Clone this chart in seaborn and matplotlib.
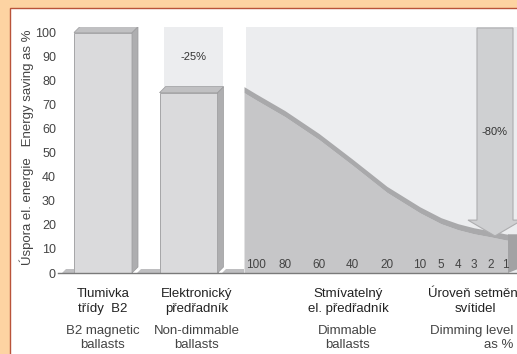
import matplotlib
matplotlib.use("Agg")
import matplotlib.pyplot as plt
import numpy as np
import seaborn as sns
from matplotlib.patches import Polygon, Rectangle

# --- data ---
labels_cz = ["Tlumivka\ntřídy  B2", "Elektronický\npředřadník",
             "Stmívatelný\nel. předřadník", "Úroveň setmění\nsvítidel"]
labels_en = ["B2 magnetic\nballasts", "Non-dimmable\nballasts",
             "Dimmable\nballasts", "Dimming level\nas %"]
bar_energy = [100, 75]
dim_levels = ["100", "80", "60", "40", "20", "10", "5", "4", "3", "2", "1"]
dim_energy = [72, 65, 55.5, 45, 33.5, 25, 20.5, 18, 16.3, 15, 13.8]
curve_start, curve_end = 75, 13.6
savings = ["-25%", "-80%"]
y_ticks = list(range(0, 101, 10))
y_title = "Úspora el. energie   Energy saving as %"

# --- layout (x in pixels of the 517 px wide picture) ---
bar_pos = [103, 188.5]
bar_w = 58
dim_pos = [256, 285, 319, 352, 387, 420, 441, 458, 474, 491, 505]
curve_x0, curve_x1 = 244, 508
label_x = [103, 197, 348, 475]
dx, dy = 6, 2.5          # fake 3D depth
top = 102.3

front = "#DADADC"
side = "#AEAEB0"
lid = "#C0C0C2"
edge = "#9A9A9C"
pale = "#ECEDEF"
text_c = "#444444"

sns.set_style("white")
plt.rcParams["font.family"] = ["Liberation Sans", "DejaVu Sans"]

fig = plt.figure(figsize=(5.17, 3.54), dpi=100)
fig.patch.set_facecolor("#FDD3A2")

bg = fig.add_axes([0, 0, 1, 1])
bg.set_xlim(0, 517)
bg.set_ylim(354, 0)
bg.axis("off")
bg.add_patch(Rectangle((10, 8), 530, 370, facecolor="white",
                       edgecolor="#B9533A", lw=1.0))

ax = fig.add_axes([58 / 517, 81 / 354, 459 / 517, 246 / 354])
ax.patch.set_alpha(0)
ax.set_xlim(58, 517)
ax.set_ylim(0, top)

# pale backgrounds
ax.fill_between([164, 223], bar_energy[1] + dy, top, color=pale, lw=0)
ax.fill_between([246, 517], 0, top, color=pale, lw=0)

# floor strips between the columns
for x0, x1 in [(62, 74), (137, 160), (222, 244)]:
    ax.add_patch(Polygon([(x0, 0), (x1, 0), (x1, 1.5), (x0 + 4, 1.5)],
                         closed=True, fc="#BEBEC0", ec="none"))

# columns
sns.barplot(x=bar_pos, y=bar_energy, native_scale=True,
            width=bar_w / (bar_pos[1] - bar_pos[0]), color=front,
            saturation=1, edgecolor=edge, linewidth=0.6, ax=ax)
for xc, v in zip(bar_pos, bar_energy):
    xl, xr = xc - bar_w / 2, xc + bar_w / 2
    ax.add_patch(Polygon([(xr, 0), (xr + dx, dy), (xr + dx, v + dy), (xr, v)],
                         closed=True, fc=side, ec=edge, lw=0.5))
    ax.add_patch(Polygon([(xl, v), (xr, v), (xr + dx, v + dy), (xl + dx, v + dy)],
                         closed=True, fc=lid, ec=edge, lw=0.5))

# dimming curve
cx = np.array([curve_x0] + dim_pos + [curve_x1], dtype=float)
cy = np.array([curve_start] + dim_energy + [curve_end], dtype=float)
ax.fill_between(cx, 0, cy, color="#C6C6C8", lw=0)
ax.fill_between(cx, cy, cy + dy, color="#A9A9AB", lw=0)
ax.add_patch(Polygon([(curve_x1, 0), (curve_x1 + 9, 1.5),
                      (curve_x1 + 9, curve_end + dy), (curve_x1, curve_end + dy)],
                     closed=True, fc="#A2A2A4", ec="none", clip_on=False))

# arrow
head_y, tip_y = 22, 15.4
ax.add_patch(Polygon([(477, top - 0.4), (513, top - 0.4), (513, head_y),
                      (522, head_y), (495, tip_y), (468, head_y), (477, head_y)],
                     closed=True, fc="#CFD0D2", ec="#ADADAF", lw=0.8,
                     clip_on=False, zorder=5))

ax.text(193.5, 89.8, savings[0], ha="center", va="center", fontsize=8,
        color="#333333")
ax.text(495, 58.6, savings[1], ha="center", va="center", fontsize=8,
        color="#333333", zorder=6)

for x, lab in zip(dim_pos, dim_levels):
    ax.text(x, 3.4, lab, ha="center", va="center", fontsize=8.5, color=text_c,
            zorder=6)

ax.set_yticks(y_ticks)
ax.set_xticks([])
ax.set_xlabel("")
ax.set_ylabel("")
ax.tick_params(axis="y", length=0, pad=1.5, labelsize=9, labelcolor=text_c)
for s in ["left", "right", "top"]:
    ax.spines[s].set_visible(False)
ax.spines["bottom"].set_color("#7A7A7A")
ax.spines["bottom"].set_linewidth(1.0)
ax.set_xlim(58, 517)
ax.set_ylim(0, top)

bg.text(27, 147, y_title, rotation=90, ha="center", va="center",
        fontsize=9.5, color=text_c)

for i, (cz, en) in enumerate(zip(labels_cz, labels_en)):
    bg.text(label_x[i], 301.5, cz, ha="center", va="center", fontsize=9.5,
            color="#222222", linespacing=1.25)
    if i < 3:
        bg.text(label_x[i], 338, en, ha="center", va="center", fontsize=9.5,
                color=text_c, linespacing=1.25)
    else:
        bg.text(513, 338, en, ha="right", va="center", fontsize=9.5,
                color=text_c, linespacing=1.25)

fig.savefig("out.png", dpi=100, facecolor=fig.get_facecolor())
